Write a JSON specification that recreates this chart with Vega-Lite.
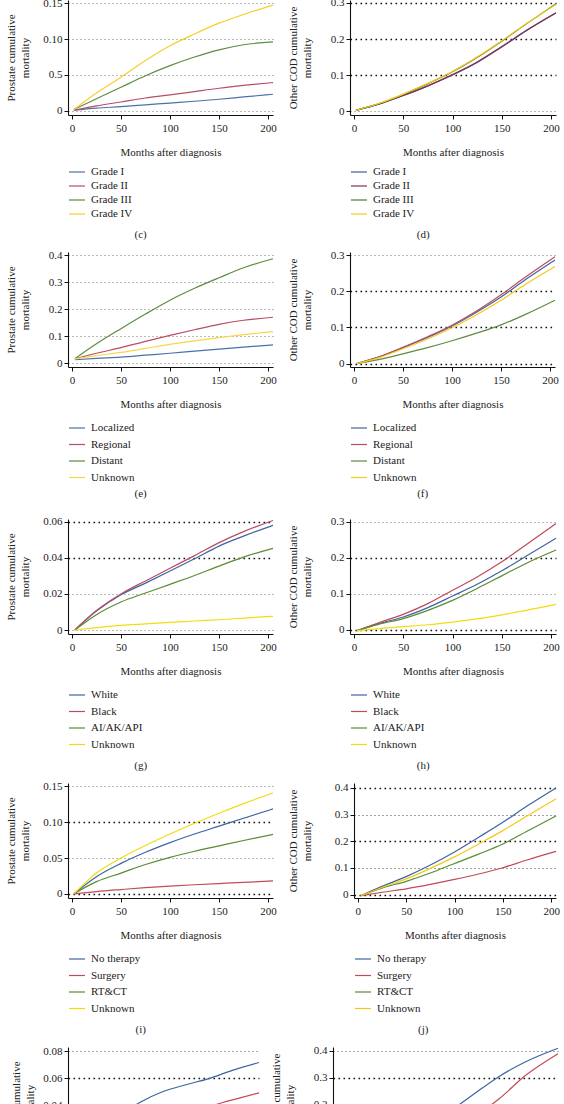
{
"$schema": "https://vega.github.io/schema/vega-lite/v6.json",
"background": "white",
"padding": {"left": 5, "top": -4, "right": 0, "bottom": 0},
"config": {
 "font": "Liberation Serif",
 "view": {"stroke": null},
 "style": {"guide-title": {"fontWeight": "normal"}, "group-title": {"fontWeight": "normal"}},
 "axis": {"labelFont": "Liberation Serif", "titleFont": "Liberation Serif", "labelFontSize": 11, "titleFontSize": 11, "titleFontWeight": 400, "labelColor": "#222", "titleColor": "#222", "domainColor": "#111", "tickColor": "#111", "tickSize": 4, "domainWidth": 1.1, "tickWidth": 1},
 "axisX": {"grid": false, "labelPadding": 3, "titlePadding": 13, "titleFontWeight": 400},
 "axisY": {"labelPadding": 2, "titlePadding": 10, "minExtent": 28, "maxExtent": 28, "titleLineHeight": 14, "titleFontWeight": 400, "gridColor": "#777", "gridDash": [1, 3], "gridWidth": 1},
 "legend": {"orient": "bottom", "direction": "vertical", "symbolType": "stroke", "symbolSize": 256, "symbolStrokeWidth": 1.2, "labelFontSize": 11, "labelFont": "Liberation Serif", "labelColor": "#222", "rowPadding": 2.5, "offset": 10, "labelOffset": 5, "padding": 0},
 "title": {"font": "Liberation Serif", "fontSize": 11, "fontWeight": "normal", "color": "#222", "orient": "bottom", "frame": "bounds", "anchor": "middle", "offset": 10},
 "line": {"strokeWidth": 1.2, "interpolate": "monotone"}
},
"datasets": {
 "c": [
  {"month":2,"value":0.001,"group":"Grade I"},{"month":25,"value":0.004,"group":"Grade I"},{"month":50,"value":0.006,"group":"Grade I"},{"month":75,"value":0.0085,"group":"Grade I"},{"month":100,"value":0.011,"group":"Grade I"},{"month":125,"value":0.0135,"group":"Grade I"},{"month":150,"value":0.0163,"group":"Grade I"},{"month":175,"value":0.0195,"group":"Grade I"},{"month":205,"value":0.0232,"group":"Grade I"},
  {"month":2,"value":0.001,"group":"Grade II"},{"month":25,"value":0.007,"group":"Grade II"},{"month":50,"value":0.0125,"group":"Grade II"},{"month":75,"value":0.018,"group":"Grade II"},{"month":100,"value":0.0223,"group":"Grade II"},{"month":125,"value":0.027,"group":"Grade II"},{"month":150,"value":0.0316,"group":"Grade II"},{"month":175,"value":0.0355,"group":"Grade II"},{"month":205,"value":0.0395,"group":"Grade II"},
  {"month":2,"value":0.002,"group":"Grade III"},{"month":25,"value":0.017,"group":"Grade III"},{"month":50,"value":0.033,"group":"Grade III"},{"month":75,"value":0.049,"group":"Grade III"},{"month":100,"value":0.063,"group":"Grade III"},{"month":125,"value":0.075,"group":"Grade III"},{"month":150,"value":0.085,"group":"Grade III"},{"month":175,"value":0.092,"group":"Grade III"},{"month":205,"value":0.096,"group":"Grade III"},
  {"month":2,"value":0.002,"group":"Grade IV"},{"month":25,"value":0.025,"group":"Grade IV"},{"month":50,"value":0.047,"group":"Grade IV"},{"month":75,"value":0.07,"group":"Grade IV"},{"month":100,"value":0.0906,"group":"Grade IV"},{"month":125,"value":0.107,"group":"Grade IV"},{"month":150,"value":0.122,"group":"Grade IV"},{"month":175,"value":0.134,"group":"Grade IV"},{"month":205,"value":0.147,"group":"Grade IV"}
 ],
 "d": [
  {"month":2,"value":0.002,"group":"Grade I"},{"month":25,"value":0.019,"group":"Grade I"},{"month":50,"value":0.043,"group":"Grade I"},{"month":75,"value":0.07,"group":"Grade I"},{"month":100,"value":0.1,"group":"Grade I"},{"month":125,"value":0.135,"group":"Grade I"},{"month":150,"value":0.178,"group":"Grade I"},{"month":175,"value":0.223,"group":"Grade I"},{"month":205,"value":0.272,"group":"Grade I"},
  {"month":2,"value":0.002,"group":"Grade II"},{"month":25,"value":0.019,"group":"Grade II"},{"month":50,"value":0.043,"group":"Grade II"},{"month":75,"value":0.07,"group":"Grade II"},{"month":100,"value":0.101,"group":"Grade II"},{"month":125,"value":0.136,"group":"Grade II"},{"month":150,"value":0.179,"group":"Grade II"},{"month":175,"value":0.224,"group":"Grade II"},{"month":205,"value":0.273,"group":"Grade II"},
  {"month":2,"value":0.002,"group":"Grade III"},{"month":25,"value":0.02,"group":"Grade III"},{"month":50,"value":0.046,"group":"Grade III"},{"month":75,"value":0.076,"group":"Grade III"},{"month":100,"value":0.109,"group":"Grade III"},{"month":125,"value":0.149,"group":"Grade III"},{"month":150,"value":0.194,"group":"Grade III"},{"month":175,"value":0.242,"group":"Grade III"},{"month":205,"value":0.298,"group":"Grade III"},
  {"month":2,"value":0.002,"group":"Grade IV"},{"month":25,"value":0.021,"group":"Grade IV"},{"month":50,"value":0.047,"group":"Grade IV"},{"month":75,"value":0.077,"group":"Grade IV"},{"month":100,"value":0.11,"group":"Grade IV"},{"month":125,"value":0.15,"group":"Grade IV"},{"month":150,"value":0.195,"group":"Grade IV"},{"month":175,"value":0.243,"group":"Grade IV"},{"month":205,"value":0.296,"group":"Grade IV"}
 ],
 "e": [
  {"month":3,"value":0.013,"group":"Localized"},{"month":25,"value":0.018,"group":"Localized"},{"month":50,"value":0.023,"group":"Localized"},{"month":75,"value":0.03,"group":"Localized"},{"month":100,"value":0.037,"group":"Localized"},{"month":125,"value":0.045,"group":"Localized"},{"month":150,"value":0.052,"group":"Localized"},{"month":175,"value":0.06,"group":"Localized"},{"month":205,"value":0.068,"group":"Localized"},
  {"month":3,"value":0.016,"group":"Regional"},{"month":25,"value":0.037,"group":"Regional"},{"month":50,"value":0.058,"group":"Regional"},{"month":75,"value":0.081,"group":"Regional"},{"month":100,"value":0.103,"group":"Regional"},{"month":125,"value":0.124,"group":"Regional"},{"month":150,"value":0.144,"group":"Regional"},{"month":175,"value":0.159,"group":"Regional"},{"month":205,"value":0.17,"group":"Regional"},
  {"month":3,"value":0.017,"group":"Distant"},{"month":25,"value":0.072,"group":"Distant"},{"month":50,"value":0.128,"group":"Distant"},{"month":75,"value":0.182,"group":"Distant"},{"month":100,"value":0.233,"group":"Distant"},{"month":125,"value":0.277,"group":"Distant"},{"month":150,"value":0.316,"group":"Distant"},{"month":175,"value":0.353,"group":"Distant"},{"month":205,"value":0.386,"group":"Distant"},
  {"month":3,"value":0.016,"group":"Unknown"},{"month":25,"value":0.028,"group":"Unknown"},{"month":50,"value":0.04,"group":"Unknown"},{"month":75,"value":0.055,"group":"Unknown"},{"month":100,"value":0.07,"group":"Unknown"},{"month":125,"value":0.083,"group":"Unknown"},{"month":150,"value":0.095,"group":"Unknown"},{"month":175,"value":0.106,"group":"Unknown"},{"month":205,"value":0.117,"group":"Unknown"}
 ],
 "f": [
  {"month":3,"value":0.0,"group":"Localized"},{"month":25,"value":0.018,"group":"Localized"},{"month":50,"value":0.044,"group":"Localized"},{"month":75,"value":0.072,"group":"Localized"},{"month":100,"value":0.104,"group":"Localized"},{"month":125,"value":0.142,"group":"Localized"},{"month":150,"value":0.184,"group":"Localized"},{"month":175,"value":0.232,"group":"Localized"},{"month":205,"value":0.286,"group":"Localized"},
  {"month":3,"value":0.0,"group":"Regional"},{"month":25,"value":0.018,"group":"Regional"},{"month":50,"value":0.045,"group":"Regional"},{"month":75,"value":0.074,"group":"Regional"},{"month":100,"value":0.106,"group":"Regional"},{"month":125,"value":0.145,"group":"Regional"},{"month":150,"value":0.19,"group":"Regional"},{"month":175,"value":0.239,"group":"Regional"},{"month":205,"value":0.295,"group":"Regional"},
  {"month":3,"value":0.0,"group":"Distant"},{"month":25,"value":0.011,"group":"Distant"},{"month":50,"value":0.027,"group":"Distant"},{"month":75,"value":0.044,"group":"Distant"},{"month":100,"value":0.063,"group":"Distant"},{"month":125,"value":0.084,"group":"Distant"},{"month":150,"value":0.107,"group":"Distant"},{"month":175,"value":0.136,"group":"Distant"},{"month":205,"value":0.175,"group":"Distant"},
  {"month":3,"value":0.0,"group":"Unknown"},{"month":25,"value":0.016,"group":"Unknown"},{"month":50,"value":0.041,"group":"Unknown"},{"month":75,"value":0.068,"group":"Unknown"},{"month":100,"value":0.099,"group":"Unknown"},{"month":125,"value":0.135,"group":"Unknown"},{"month":150,"value":0.175,"group":"Unknown"},{"month":175,"value":0.219,"group":"Unknown"},{"month":205,"value":0.268,"group":"Unknown"}
 ],
 "g": [
  {"month":3,"value":0.0,"group":"White"},{"month":25,"value":0.0105,"group":"White"},{"month":50,"value":0.0195,"group":"White"},{"month":75,"value":0.026,"group":"White"},{"month":100,"value":0.0327,"group":"White"},{"month":125,"value":0.0395,"group":"White"},{"month":150,"value":0.0465,"group":"White"},{"month":175,"value":0.052,"group":"White"},{"month":205,"value":0.058,"group":"White"},
  {"month":3,"value":0.0,"group":"Black"},{"month":25,"value":0.0108,"group":"Black"},{"month":50,"value":0.02,"group":"Black"},{"month":75,"value":0.0272,"group":"Black"},{"month":100,"value":0.0342,"group":"Black"},{"month":125,"value":0.0412,"group":"Black"},{"month":150,"value":0.0484,"group":"Black"},{"month":175,"value":0.0545,"group":"Black"},{"month":205,"value":0.0607,"group":"Black"},
  {"month":3,"value":0.0,"group":"AI/AK/API"},{"month":25,"value":0.0085,"group":"AI/AK/API"},{"month":50,"value":0.0155,"group":"AI/AK/API"},{"month":75,"value":0.0205,"group":"AI/AK/API"},{"month":100,"value":0.0253,"group":"AI/AK/API"},{"month":125,"value":0.0302,"group":"AI/AK/API"},{"month":150,"value":0.0354,"group":"AI/AK/API"},{"month":175,"value":0.0404,"group":"AI/AK/API"},{"month":205,"value":0.0452,"group":"AI/AK/API"},
  {"month":3,"value":0.0,"group":"Unknown"},{"month":25,"value":0.0013,"group":"Unknown"},{"month":50,"value":0.0026,"group":"Unknown"},{"month":75,"value":0.0034,"group":"Unknown"},{"month":100,"value":0.0042,"group":"Unknown"},{"month":125,"value":0.005,"group":"Unknown"},{"month":150,"value":0.0057,"group":"Unknown"},{"month":175,"value":0.0066,"group":"Unknown"},{"month":205,"value":0.0076,"group":"Unknown"}
 ],
 "h": [
  {"month":3,"value":-0.002,"group":"White"},{"month":25,"value":0.0175,"group":"White"},{"month":50,"value":0.036,"group":"White"},{"month":75,"value":0.062,"group":"White"},{"month":100,"value":0.094,"group":"White"},{"month":125,"value":0.1265,"group":"White"},{"month":150,"value":0.164,"group":"White"},{"month":175,"value":0.205,"group":"White"},{"month":205,"value":0.254,"group":"White"},
  {"month":3,"value":-0.002,"group":"Black"},{"month":25,"value":0.02,"group":"Black"},{"month":50,"value":0.0434,"group":"Black"},{"month":75,"value":0.073,"group":"Black"},{"month":100,"value":0.11,"group":"Black"},{"month":125,"value":0.147,"group":"Black"},{"month":150,"value":0.189,"group":"Black"},{"month":175,"value":0.237,"group":"Black"},{"month":205,"value":0.295,"group":"Black"},
  {"month":3,"value":-0.002,"group":"AI/AK/API"},{"month":25,"value":0.0157,"group":"AI/AK/API"},{"month":50,"value":0.0315,"group":"AI/AK/API"},{"month":75,"value":0.0545,"group":"AI/AK/API"},{"month":100,"value":0.082,"group":"AI/AK/API"},{"month":125,"value":0.115,"group":"AI/AK/API"},{"month":150,"value":0.15,"group":"AI/AK/API"},{"month":175,"value":0.185,"group":"AI/AK/API"},{"month":205,"value":0.2216,"group":"AI/AK/API"},
  {"month":3,"value":-0.002,"group":"Unknown"},{"month":25,"value":0.004,"group":"Unknown"},{"month":50,"value":0.0092,"group":"Unknown"},{"month":75,"value":0.0145,"group":"Unknown"},{"month":100,"value":0.022,"group":"Unknown"},{"month":125,"value":0.031,"group":"Unknown"},{"month":150,"value":0.042,"group":"Unknown"},{"month":175,"value":0.0545,"group":"Unknown"},{"month":205,"value":0.071,"group":"Unknown"}
 ],
 "i": [
  {"month":2,"value":0.0,"group":"No therapy"},{"month":25,"value":0.024,"group":"No therapy"},{"month":50,"value":0.0425,"group":"No therapy"},{"month":75,"value":0.058,"group":"No therapy"},{"month":100,"value":0.0715,"group":"No therapy"},{"month":125,"value":0.0835,"group":"No therapy"},{"month":150,"value":0.0945,"group":"No therapy"},{"month":175,"value":0.1055,"group":"No therapy"},{"month":205,"value":0.1185,"group":"No therapy"},
  {"month":2,"value":0.0,"group":"Surgery"},{"month":25,"value":0.0032,"group":"Surgery"},{"month":50,"value":0.006,"group":"Surgery"},{"month":75,"value":0.0086,"group":"Surgery"},{"month":100,"value":0.0108,"group":"Surgery"},{"month":125,"value":0.0127,"group":"Surgery"},{"month":150,"value":0.0144,"group":"Surgery"},{"month":175,"value":0.016,"group":"Surgery"},{"month":205,"value":0.018,"group":"Surgery"},
  {"month":2,"value":0.0,"group":"RT&CT"},{"month":25,"value":0.017,"group":"RT&CT"},{"month":50,"value":0.029,"group":"RT&CT"},{"month":75,"value":0.041,"group":"RT&CT"},{"month":100,"value":0.051,"group":"RT&CT"},{"month":125,"value":0.0595,"group":"RT&CT"},{"month":150,"value":0.067,"group":"RT&CT"},{"month":175,"value":0.0745,"group":"RT&CT"},{"month":205,"value":0.083,"group":"RT&CT"},
  {"month":2,"value":0.0,"group":"Unknown"},{"month":25,"value":0.029,"group":"Unknown"},{"month":50,"value":0.05,"group":"Unknown"},{"month":75,"value":0.0675,"group":"Unknown"},{"month":100,"value":0.0835,"group":"Unknown"},{"month":125,"value":0.0985,"group":"Unknown"},{"month":150,"value":0.1125,"group":"Unknown"},{"month":175,"value":0.126,"group":"Unknown"},{"month":205,"value":0.1407,"group":"Unknown"}
 ],
 "j": [
  {"month":3,"value":-0.004,"group":"No therapy"},{"month":25,"value":0.031,"group":"No therapy"},{"month":50,"value":0.0677,"group":"No therapy"},{"month":75,"value":0.111,"group":"No therapy"},{"month":100,"value":0.16,"group":"No therapy"},{"month":125,"value":0.215,"group":"No therapy"},{"month":150,"value":0.271,"group":"No therapy"},{"month":175,"value":0.332,"group":"No therapy"},{"month":205,"value":0.4,"group":"No therapy"},
  {"month":3,"value":-0.004,"group":"Surgery"},{"month":25,"value":0.009,"group":"Surgery"},{"month":50,"value":0.022,"group":"Surgery"},{"month":75,"value":0.0385,"group":"Surgery"},{"month":100,"value":0.057,"group":"Surgery"},{"month":125,"value":0.0775,"group":"Surgery"},{"month":150,"value":0.101,"group":"Surgery"},{"month":175,"value":0.13,"group":"Surgery"},{"month":205,"value":0.162,"group":"Surgery"},
  {"month":3,"value":-0.004,"group":"RT&CT"},{"month":25,"value":0.0246,"group":"RT&CT"},{"month":50,"value":0.05,"group":"RT&CT"},{"month":75,"value":0.081,"group":"RT&CT"},{"month":100,"value":0.117,"group":"RT&CT"},{"month":125,"value":0.152,"group":"RT&CT"},{"month":150,"value":0.19,"group":"RT&CT"},{"month":175,"value":0.238,"group":"RT&CT"},{"month":205,"value":0.295,"group":"RT&CT"},
  {"month":3,"value":-0.004,"group":"Unknown"},{"month":25,"value":0.027,"group":"Unknown"},{"month":50,"value":0.059,"group":"Unknown"},{"month":75,"value":0.0985,"group":"Unknown"},{"month":100,"value":0.1415,"group":"Unknown"},{"month":125,"value":0.19,"group":"Unknown"},{"month":150,"value":0.24,"group":"Unknown"},{"month":175,"value":0.295,"group":"Unknown"},{"month":205,"value":0.359,"group":"Unknown"}
 ],
 "k": [
  {"month":2,"value":0.0,"group":"A"},{"month":25,"value":0.018,"group":"A"},{"month":50,"value":0.031,"group":"A"},{"month":75,"value":0.042,"group":"A"},{"month":100,"value":0.05,"group":"A"},{"month":125,"value":0.055,"group":"A"},{"month":150,"value":0.0596,"group":"A"},{"month":175,"value":0.0655,"group":"A"},{"month":205,"value":0.0715,"group":"A"},
  {"month":2,"value":0.0,"group":"B"},{"month":25,"value":0.01,"group":"B"},{"month":50,"value":0.018,"group":"B"},{"month":75,"value":0.025,"group":"B"},{"month":100,"value":0.03,"group":"B"},{"month":125,"value":0.035,"group":"B"},{"month":150,"value":0.039,"group":"B"},{"month":175,"value":0.0437,"group":"B"},{"month":205,"value":0.049,"group":"B"}
 ],
 "l": [
  {"month":2,"value":0.0,"group":"A"},{"month":25,"value":0.03,"group":"A"},{"month":50,"value":0.065,"group":"A"},{"month":75,"value":0.11,"group":"A"},{"month":100,"value":0.165,"group":"A"},{"month":125,"value":0.235,"group":"A"},{"month":150,"value":0.305,"group":"A"},{"month":175,"value":0.36,"group":"A"},{"month":205,"value":0.41,"group":"A"},
  {"month":2,"value":0.0,"group":"B"},{"month":25,"value":0.02,"group":"B"},{"month":50,"value":0.045,"group":"B"},{"month":75,"value":0.075,"group":"B"},{"month":100,"value":0.11,"group":"B"},{"month":125,"value":0.15,"group":"B"},{"month":150,"value":0.222,"group":"B"},{"month":175,"value":0.31,"group":"B"},{"month":205,"value":0.39,"group":"B"}
 ]
},
"resolve": {"scale": {"color": "independent"}, "legend": {"color": "independent"}},
"spacing": 16,
"vconcat": [
 {"resolve": {"scale": {"color": "independent"}, "legend": {"color": "independent"}},
  "spacing": 9,
  "vconcat": [
  {"resolve": {"scale": {"color": "independent"}, "legend": {"color": "independent"}},
   "spacing": 10,
   "hconcat": [
   {"width": 205, "height": 115, "data": {"name": "c"}, "title": {"text": "(c)"}, "mark": {"type": "line"},
    "encoding": {
     "x": {"field": "month", "type": "quantitative", "scale": {"domain": [-4, 205], "nice": false, "zero": false}, "axis": {"values": [0,50,100,150,200], "title": "Months after diagnosis", "titleFontWeight": 400}},
     "y": {"field": "value", "type": "quantitative", "scale": {"domain": [-0.0056, 0.1542], "nice": false, "zero": false}, "axis": {"values": [0,0.05,0.1,0.15], "title": ["Prostate cumulative","mortality"], "titleFontWeight": 400, "labelExpr": "datum.value === 0 ? '0' : datum.value === 0.05 ? '0.5' : format(datum.value, '.2f')"}},
     "color": {"field": "group", "type": "nominal", "scale": {"domain": ["Grade I","Grade II","Grade III","Grade IV"], "range": ["#4a72aa","#b94d62","#5e8c42","#f5cf2a"]}, "legend": {"title": null, "offset": 6, "rowPadding": 0}}
    }},
   {"width": 206, "height": 115, "data": {"name": "d"}, "title": {"text": "(d)"}, "mark": {"type": "line"},
    "encoding": {
     "x": {"field": "month", "type": "quantitative", "scale": {"domain": [-4, 205], "nice": false, "zero": false}, "axis": {"values": [0,50,100,150,200], "title": "Months after diagnosis", "titleFontWeight": 400}},
     "y": {"field": "value", "type": "quantitative", "scale": {"domain": [-0.011, 0.3083], "nice": false, "zero": false}, "axis": {"values": [0,0.1,0.2,0.3], "title": ["Other COD cumulative","mortality"], "titleFontWeight": 400, "labelExpr": "datum.value === 0 ? '0' : format(datum.value, '.1f')",
       "gridColor": {"condition": {"test": "datum.value > 0", "value": "#111"}, "value": "#777"},
       "gridWidth": {"condition": {"test": "datum.value > 0", "value": 1.6}, "value": 1},
       "gridDash": {"condition": {"test": "datum.value > 0", "value": [1.6, 3.4]}, "value": [1, 3]}}},
     "color": {"field": "group", "type": "nominal", "scale": {"domain": ["Grade I","Grade II","Grade III","Grade IV"], "range": ["#3d5f99","#8a2f45","#4f7a35","#f2cc1c"]}, "legend": {"title": null, "offset": 6, "rowPadding": 0}}
    }}
   ]},
  {"resolve": {"scale": {"color": "independent"}, "legend": {"color": "independent"}},
   "spacing": 10,
   "hconcat": [
   {"width": 205, "height": 115, "data": {"name": "e"}, "title": {"text": "(e)", "offset": 5}, "mark": {"type": "line"},
    "encoding": {
     "x": {"field": "month", "type": "quantitative", "scale": {"domain": [-4, 205], "nice": false, "zero": false}, "axis": {"values": [0,50,100,150,200], "title": "Months after diagnosis", "titleFontWeight": 400}},
     "y": {"field": "value", "type": "quantitative", "scale": {"domain": [-0.0137, 0.4111], "nice": false, "zero": false}, "axis": {"values": [0,0.1,0.2,0.3,0.4], "title": ["Prostate cumulative","mortality"], "titleFontWeight": 400, "labelExpr": "datum.value === 0 ? '0' : format(datum.value, '.1f')"}},
     "color": {"field": "group", "type": "nominal", "scale": {"domain": ["Localized","Regional","Distant","Unknown"], "range": ["#4a72aa","#b94d62","#5e8c42","#f5d84a"]}, "legend": {"title": null}}
    }},
   {"width": 205, "height": 115, "data": {"name": "f"}, "title": {"text": "(f)", "offset": 5}, "mark": {"type": "line"},
    "encoding": {
     "x": {"field": "month", "type": "quantitative", "scale": {"domain": [-4, 205], "nice": false, "zero": false}, "axis": {"values": [0,50,100,150,200], "title": "Months after diagnosis", "titleFontWeight": 400}},
     "y": {"field": "value", "type": "quantitative", "scale": {"domain": [-0.0094, 0.3083], "nice": false, "zero": false}, "axis": {"values": [0,0.1,0.2,0.3], "title": ["Other COD cumulative","mortality"], "titleFontWeight": 400, "labelExpr": "datum.value === 0 ? '0' : format(datum.value, '.1f')",
       "gridColor": {"condition": {"test": "datum.value < 0.25", "value": "#111"}, "value": "#777"},
       "gridWidth": {"condition": {"test": "datum.value < 0.25", "value": 1.6}, "value": 1},
       "gridDash": {"condition": {"test": "datum.value < 0.25", "value": [1.6, 3.4]}, "value": [1, 3]}}},
     "color": {"field": "group", "type": "nominal", "scale": {"domain": ["Localized","Regional","Distant","Unknown"], "range": ["#3d64a0","#b94d62","#5e8c42","#f5c816"]}, "legend": {"title": null}}
    }}
   ]}
 ]},
 {"resolve": {"scale": {"color": "independent"}, "legend": {"color": "independent"}},
  "spacing": 9,
  "vconcat": [
  {"resolve": {"scale": {"color": "independent"}, "legend": {"color": "independent"}},
   "spacing": 10,
   "hconcat": [
   {"width": 205, "height": 115, "data": {"name": "g"}, "title": {"text": "(g)"}, "mark": {"type": "line"},
    "encoding": {
     "x": {"field": "month", "type": "quantitative", "scale": {"domain": [-4, 205], "nice": false, "zero": false}, "axis": {"values": [0,50,100,150,200], "title": "Months after diagnosis", "titleFontWeight": 400}},
     "y": {"field": "value", "type": "quantitative", "scale": {"domain": [-0.0022, 0.0615], "nice": false, "zero": false}, "axis": {"values": [0,0.02,0.04,0.06], "title": ["Prostate cumulative","mortality"], "titleFontWeight": 400, "labelExpr": "datum.value === 0 ? '0' : format(datum.value, '.2f')",
       "gridColor": {"condition": {"test": "datum.value > 0.03", "value": "#111"}, "value": "#777"},
       "gridWidth": {"condition": {"test": "datum.value > 0.03", "value": 1.6}, "value": 1},
       "gridDash": {"condition": {"test": "datum.value > 0.03", "value": [1.6, 3.4]}, "value": [1, 3]}}},
     "color": {"field": "group", "type": "nominal", "scale": {"domain": ["White","Black","AI/AK/API","Unknown"], "range": ["#3d64a0","#b94d62","#5a8c32","#f2dc10"]}, "legend": {"title": null}}
    }},
   {"width": 206, "height": 115, "data": {"name": "h"}, "title": {"text": "(h)"}, "mark": {"type": "line"},
    "encoding": {
     "x": {"field": "month", "type": "quantitative", "scale": {"domain": [-4, 205], "nice": false, "zero": false}, "axis": {"values": [0,50,100,150,200], "title": "Months after diagnosis", "titleFontWeight": 400}},
     "y": {"field": "value", "type": "quantitative", "scale": {"domain": [-0.0111, 0.3075], "nice": false, "zero": false}, "axis": {"values": [0,0.1,0.2,0.3], "title": ["Other COD cumulative","mortality"], "titleFontWeight": 400, "labelExpr": "datum.value === 0 ? '0' : format(datum.value, '.1f')",
       "gridColor": {"condition": {"test": "datum.value === 0 || datum.value === 0.2", "value": "#111"}, "value": "#777"},
       "gridWidth": {"condition": {"test": "datum.value === 0 || datum.value === 0.2", "value": 1.6}, "value": 1},
       "gridDash": {"condition": {"test": "datum.value === 0 || datum.value === 0.2", "value": [1.6, 3.4]}, "value": [1, 3]}}},
     "color": {"field": "group", "type": "nominal", "scale": {"domain": ["White","Black","AI/AK/API","Unknown"], "range": ["#3d64a0","#c24a5a","#5a8c32","#f2dc10"]}, "legend": {"title": null}}
    }}
   ]},
  {"resolve": {"scale": {"color": "independent"}, "legend": {"color": "independent"}},
   "spacing": 10,
   "hconcat": [
   {"width": 205, "height": 115, "data": {"name": "i"}, "title": {"text": "(i)"}, "mark": {"type": "line"},
    "encoding": {
     "x": {"field": "month", "type": "quantitative", "scale": {"domain": [-4, 205], "nice": false, "zero": false}, "axis": {"values": [0,50,100,150,200], "title": "Months after diagnosis", "titleFontWeight": 400}},
     "y": {"field": "value", "type": "quantitative", "scale": {"domain": [-0.0058, 0.1547], "nice": false, "zero": false}, "axis": {"values": [0,0.05,0.1,0.15], "title": ["Prostate cumulative","mortality"], "titleFontWeight": 400, "labelExpr": "datum.value === 0 ? '0' : format(datum.value, '.2f')",
       "gridColor": {"condition": {"test": "datum.value === 0 || datum.value === 0.1", "value": "#111"}, "value": "#777"},
       "gridWidth": {"condition": {"test": "datum.value === 0 || datum.value === 0.1", "value": 1.6}, "value": 1},
       "gridDash": {"condition": {"test": "datum.value === 0 || datum.value === 0.1", "value": [1.6, 3.4]}, "value": [1, 3]}}},
     "color": {"field": "group", "type": "nominal", "scale": {"domain": ["No therapy","Surgery","RT&CT","Unknown"], "range": ["#3d64a0","#c24a5a","#5a8c32","#f2dc10"]}, "legend": {"title": null}}
    }},
   {"width": 202, "height": 115, "data": {"name": "j"}, "title": {"text": "(j)"}, "mark": {"type": "line"},
    "encoding": {
     "x": {"field": "month", "type": "quantitative", "scale": {"domain": [-4, 205], "nice": false, "zero": false}, "axis": {"values": [0,50,100,150,200], "title": "Months after diagnosis", "titleFontWeight": 400}},
     "y": {"field": "value", "type": "quantitative", "scale": {"domain": [-0.0125, 0.4185], "nice": false, "zero": false}, "axis": {"values": [0,0.1,0.2,0.3,0.4], "title": ["Other COD cumulative","mortality"], "titleFontWeight": 400, "minExtent": 32, "maxExtent": 32, "labelExpr": "datum.value === 0 ? '0' : format(datum.value, '.1f')",
       "gridColor": {"condition": {"test": "datum.value === 0 || datum.value === 0.2 || datum.value === 0.4", "value": "#111"}, "value": "#444"},
       "gridWidth": {"condition": {"test": "datum.value === 0 || datum.value === 0.2 || datum.value === 0.4", "value": 1.6}, "value": 1},
       "gridDash": {"condition": {"test": "datum.value === 0 || datum.value === 0.2 || datum.value === 0.4", "value": [1.6, 3.4]}, "value": [1, 3]}}},
     "color": {"field": "group", "type": "nominal", "scale": {"domain": ["No therapy","Surgery","RT&CT","Unknown"], "range": ["#3d64a0","#c24a5a","#5a8c32","#f5c816"]}, "legend": {"title": null}}
    }}
   ]},
  {"resolve": {"scale": {"color": "independent"}, "legend": {"color": "independent"}},
   "spacing": 7,
   "hconcat": [
   {"width": 191, "height": 115, "data": {"name": "k"}, "mark": {"type": "line"},
    "encoding": {
     "x": {"field": "month", "type": "quantitative", "scale": {"domain": [-4, 205], "nice": false, "zero": false}, "axis": {"values": [0,50,100,150,200], "title": "Months after diagnosis", "titleFontWeight": 400}},
     "y": {"field": "value", "type": "quantitative", "scale": {"domain": [-0.0022, 0.083], "nice": false, "zero": false}, "axis": {"values": [0,0.02,0.04,0.06,0.08], "title": ["Prostate cumulative","mortality"], "titleFontWeight": 400, "minExtent": 24, "maxExtent": 24, "titlePadding": 9, "labelExpr": "datum.value === 0 ? '0' : format(datum.value, '.2f')",
       "gridColor": {"condition": {"test": "datum.value === 0.06 || datum.value === 0.02", "value": "#111"}, "value": "#555"},
       "gridWidth": {"condition": {"test": "datum.value === 0.06 || datum.value === 0.02", "value": 1.6}, "value": 1},
       "gridDash": {"condition": {"test": "datum.value === 0.06 || datum.value === 0.02", "value": [1.6, 3.4]}, "value": [1, 3]}}},
     "color": {"field": "group", "type": "nominal", "scale": {"domain": ["A","B"], "range": ["#3d64a0","#c24a5a"]}, "legend": null}
    }},
   {"width": 225, "height": 115, "data": {"name": "l"}, "mark": {"type": "line"},
    "encoding": {
     "x": {"field": "month", "type": "quantitative", "scale": {"domain": [-4, 205], "nice": false, "zero": false}, "axis": {"values": [0,50,100,150,200], "title": "Months after diagnosis", "titleFontWeight": 400}},
     "y": {"field": "value", "type": "quantitative", "scale": {"domain": [-0.0111, 0.4148], "nice": false, "zero": false}, "axis": {"values": [0,0.1,0.2,0.3,0.4], "title": ["Other COD cumulative","mortality"], "titleFontWeight": 400, "minExtent": 30, "maxExtent": 30, "titlePadding": 8, "labelExpr": "datum.value === 0 ? '0' : format(datum.value, '.1f')",
       "gridColor": {"condition": {"test": "datum.value === 0.3 || datum.value === 0.1", "value": "#111"}, "value": "#555"},
       "gridWidth": {"condition": {"test": "datum.value === 0.3 || datum.value === 0.1", "value": 1.6}, "value": 1},
       "gridDash": {"condition": {"test": "datum.value === 0.3 || datum.value === 0.1", "value": [1.6, 3.4]}, "value": [1, 3]}}},
     "color": {"field": "group", "type": "nominal", "scale": {"domain": ["A","B"], "range": ["#3d64a0","#c24a5a"]}, "legend": null}
    }}
   ]}
 ]}
]
}
